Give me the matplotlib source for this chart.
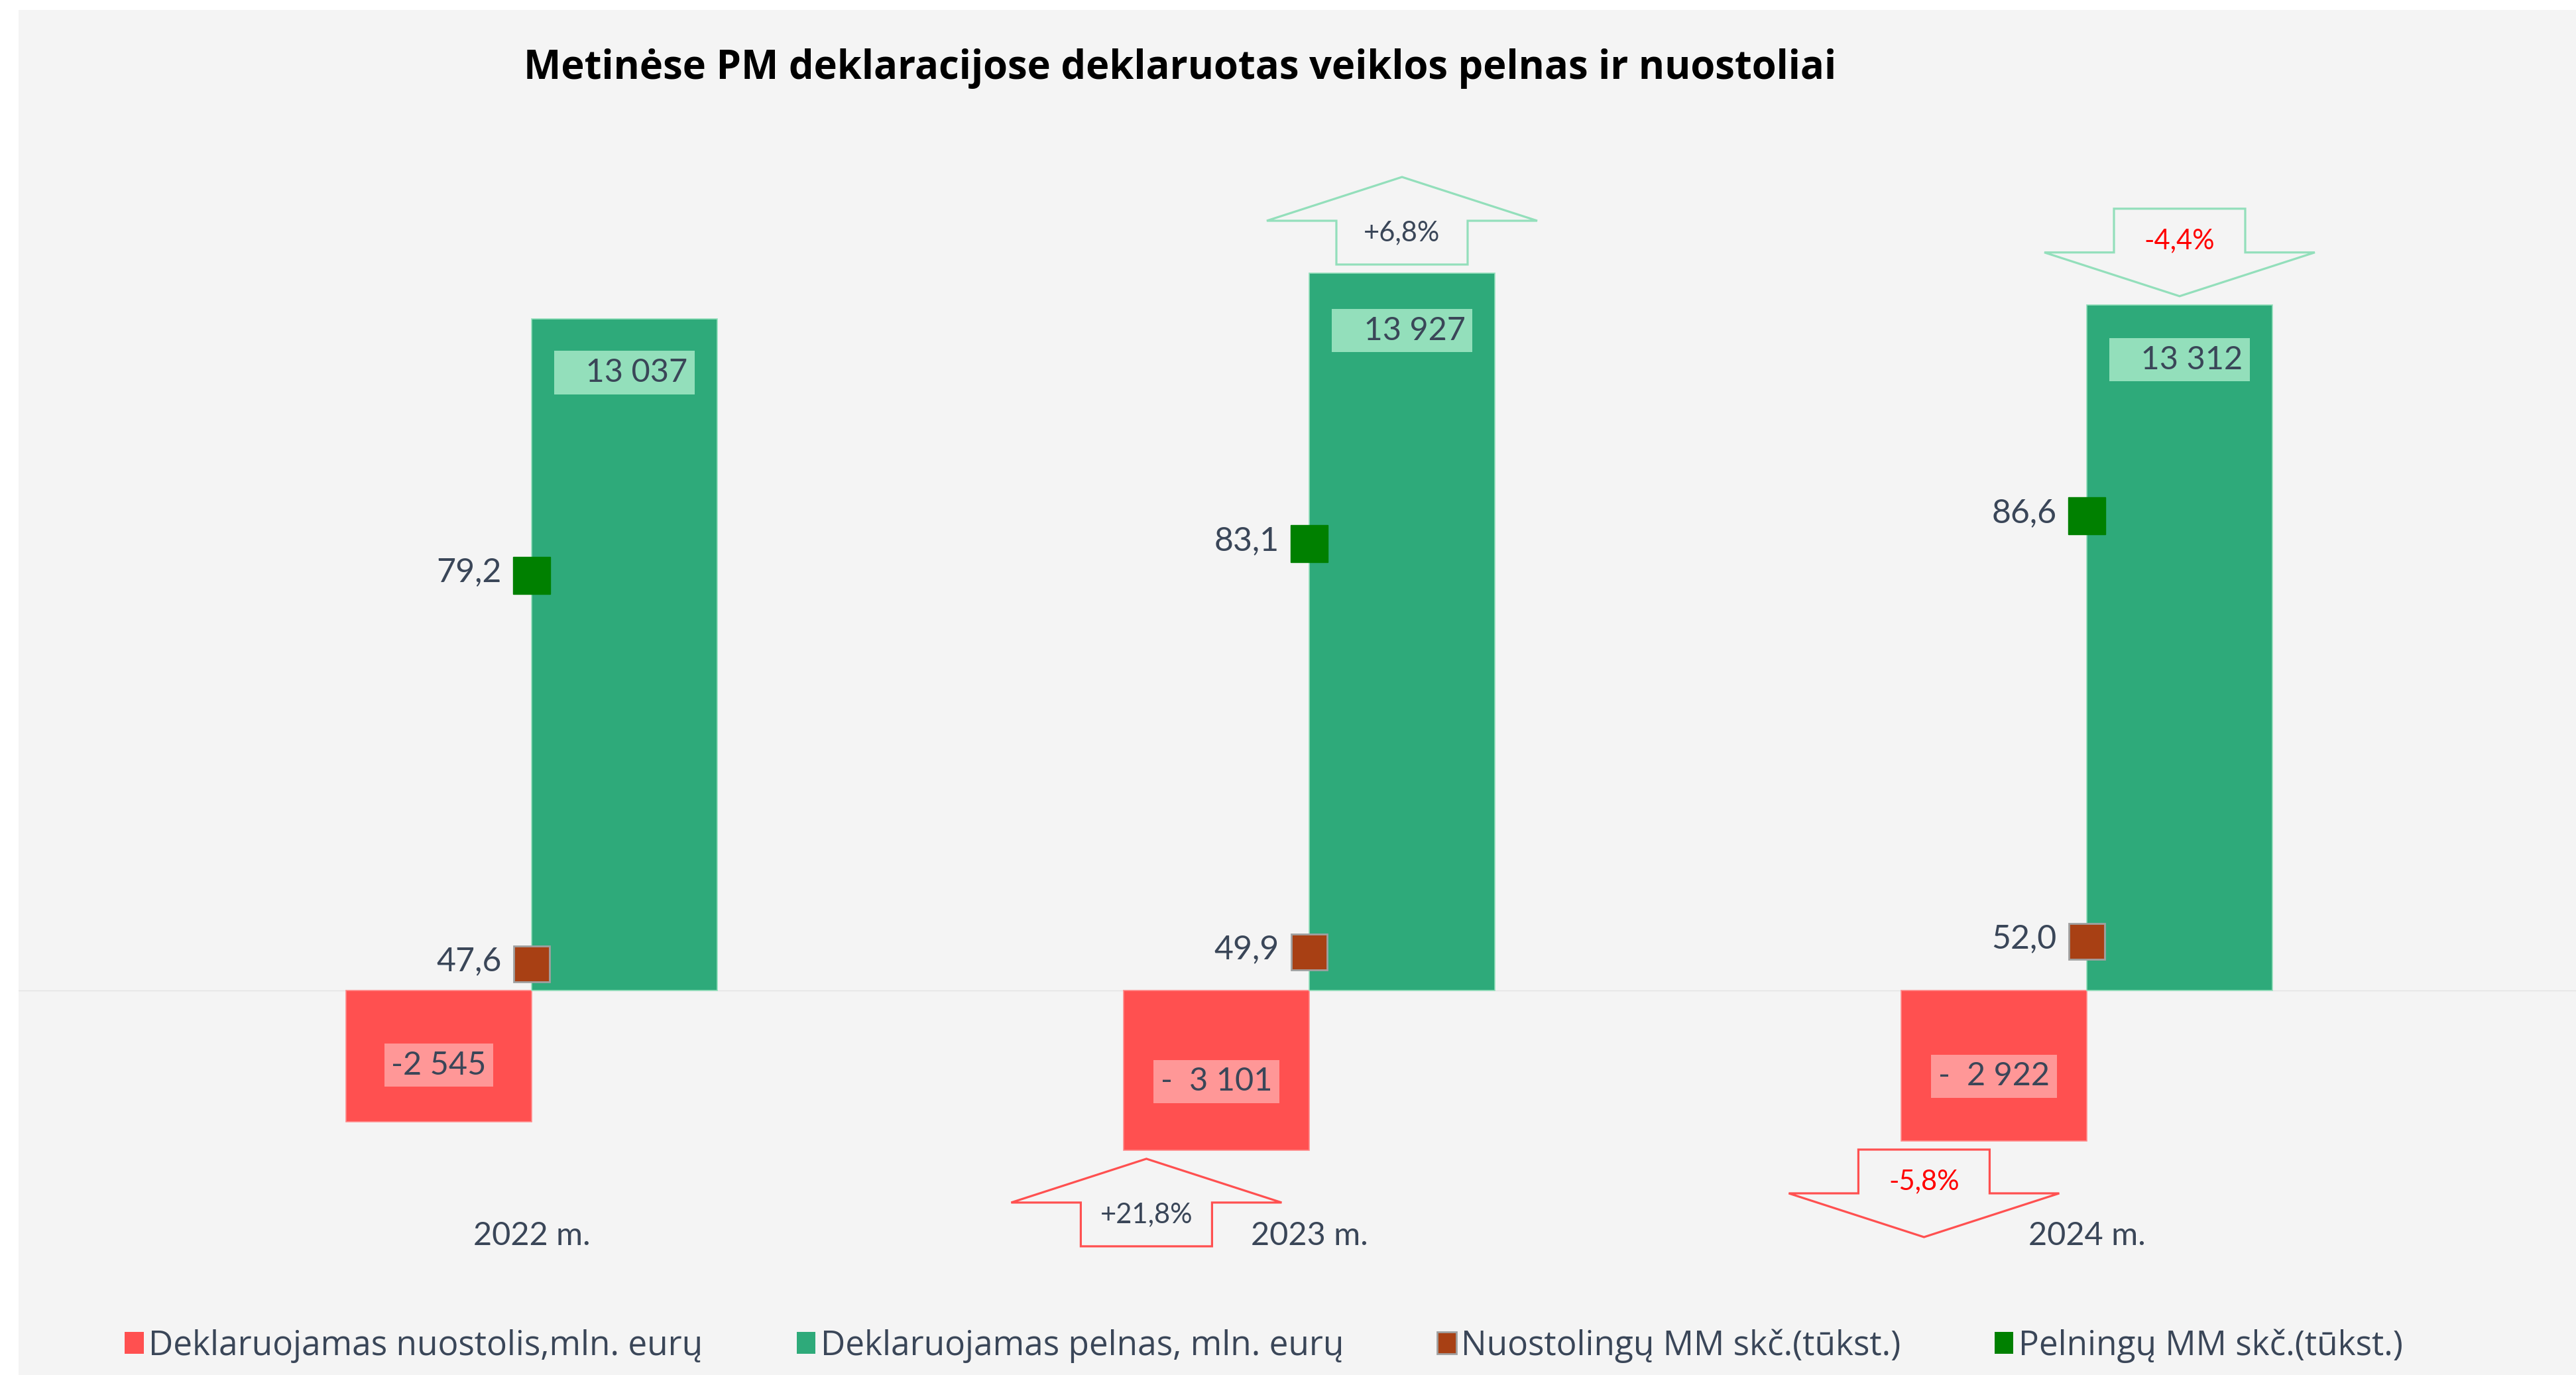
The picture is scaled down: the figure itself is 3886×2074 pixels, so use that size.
import matplotlib.pyplot as plt
import matplotlib.transforms as mtransforms
from matplotlib.patches import Polygon, Patch
import numpy as np

plt.rcParams['font.family'] = ['Lato', 'DejaVu Sans']

# data
years = ['2022 m.', '2023 m.', '2024 m.']
loss = [-2545, -3101, -2922]
profit = [13037, 13927, 13312]
loss_labels = ['-2 545', '-  3 101', '-  2 922']
profit_labels = ['13 037', '13 927', '13 312']
loss_firms = [47.6, 49.9, 52.0]
profit_firms = [79.2, 83.1, 86.6]
profit_change = [None, 6.8, -4.4]
loss_change = [None, 21.8, -5.8]
legend_labels = ['Deklaruojamas nuostolis,mln. eurų', 'Deklaruojamas pelnas, mln. eurų',
                 'Nuostolingų MM skč.(tūkst.)', 'Pelningų MM skč.(tūkst.)']

RED = '#ff5050'
RED_LIGHT = '#ff9797'
GREEN = '#2eaa7a'
GREEN_LIGHT = '#93dfbb'
DARK_GREEN = '#008000'
BROWN = '#a84014'
TXT = '#3a4658'

W, H, DPI = 3887, 2074, 100
fig = plt.figure(figsize=(W / DPI, H / DPI), dpi=DPI, facecolor='white')
ax = fig.add_axes([28 / W, 0, 1 - 28 / W, (H - 15) / H])
ax.set_facecolor('#f4f4f4')

x = np.arange(len(years))
bw = 0.2387
ax.bar(x - bw / 2, loss, bw, color=RED, edgecolor='#ff8a8a', linewidth=1.2)
ax.bar(x + bw / 2, profit, bw, color=GREEN, edgecolor=GREEN_LIGHT, linewidth=1.2)
ax.axhline(0, color='#e4e4e4', lw=1, zorder=0)
ax.set_xlim(-0.6598, 2.630)
ax.set_ylim(-7466, 19037)

# counts of companies, each on its own hidden scale
ax2 = ax.twinx()
ax2.set_ylim(-20.5, 149.65)
ax3 = ax.twinx()
ax3.set_ylim(-32.6, 233.8)
ax2.plot(x, profit_firms, 's', ms=40, color=DARK_GREEN, mec=DARK_GREEN, mew=1)
ax3.plot(x, loss_firms, 's', ms=39, color=BROWN, mec='#a0a0a0', mew=2)

for a in (ax, ax2, ax3):
    a.set_xticks([])
    a.set_yticks([])
    for s in a.spines.values():
        s.set_visible(False)

for a, vals in ((ax2, profit_firms), (ax3, loss_firms)):
    for xi, v in zip(x, vals):
        a.annotate(f'{v:.1f}'.replace('.', ','), (xi, v), xytext=(-45, 4),
                   textcoords='offset pixels', ha='right', va='center',
                   fontsize=36, color=TXT)

# value labels in boxes
for xi, v, lab in zip(x, profit, profit_labels):
    ax.text(xi + bw / 2, v * 0.92, '   ' + lab, ha='center', va='center', fontsize=35,
            color=TXT, bbox=dict(boxstyle='square,pad=0.22', fc=GREEN_LIGHT, ec='none'))
for xi, v, lab in zip(x, loss, loss_labels):
    ax.text(xi - bw / 2, v * 0.57, lab, ha='center', va='center', fontsize=35,
            color=TXT, bbox=dict(boxstyle='square,pad=0.22', fc=RED_LIGHT, ec='none'))

for xi, lab in zip(x, years):
    ax.text(xi, -4762, lab, ha='center', va='center', fontsize=35, color=TXT)


def block_arrow(cx, cy, change, side, color):
    # side = +1 above the bar, -1 below; geometry in pixels
    hw, sw, hh, sh, gap = 204, 99, 66, 66, 13
    up = change > 0
    near, far = side * gap, side * (gap + hh + sh)
    if (up and side > 0) or (not up and side < 0):
        tail, tip = near, far
    else:
        tail, tip = far, near
    mid = tail + (tip - tail) * sh / (sh + hh)
    verts = np.array([(-sw, tail), (-sw, mid), (-hw, mid), (0, tip),
                      (hw, mid), (sw, mid), (sw, tail)]) / DPI
    trans = fig.dpi_scale_trans + mtransforms.ScaledTranslation(cx, cy, ax.transData)
    ax.add_patch(Polygon(verts, closed=True, fill=False, ec=color, lw=2.3,
                         transform=trans, clip_on=False))
    ty = mid + 18 * np.sign(tail - mid)
    txt = f'{change:+.1f}%'.replace('.', ',')
    ax.annotate(txt, (cx, cy), xytext=(0, ty), textcoords='offset pixels',
                ha='center', va='center', fontsize=30,
                color=TXT if up else '#ff0000')


for xi, ch, v in zip(x, profit_change, profit):
    if ch is not None:
        block_arrow(xi + bw / 2, v, ch, 1, GREEN_LIGHT)
for xi, ch, v in zip(x, loss_change, loss):
    if ch is not None:
        block_arrow(xi - bw / 2 - 0.09, v, ch, -1, RED)

fig.text(1780 / W, 1 - 103 / H, 'Metinėse PM deklaracijose deklaruotas veiklos pelnas ir nuostoliai',
         ha='center', va='center', fontsize=43, fontweight='bold', color='black',
         family=['Open Sans', 'DejaVu Sans'])

handles = [Patch(fc=RED, ec='none'), Patch(fc=GREEN, ec='none'),
           Patch(fc=BROWN, ec='#a0a0a0', lw=2), Patch(fc=DARK_GREEN, ec='none')]
fig.legend(handles, legend_labels, loc='center', bbox_to_anchor=(0.4905, 1 - 2030 / H),
           ncol=4, frameon=False, handlelength=0.55, handleheight=0.6,
           handletextpad=0.15, columnspacing=2.75, labelcolor=TXT,
           prop={'family': ['Open Sans', 'DejaVu Sans'], 'size': 37})

fig.savefig('out.png', dpi=DPI, facecolor='white')
